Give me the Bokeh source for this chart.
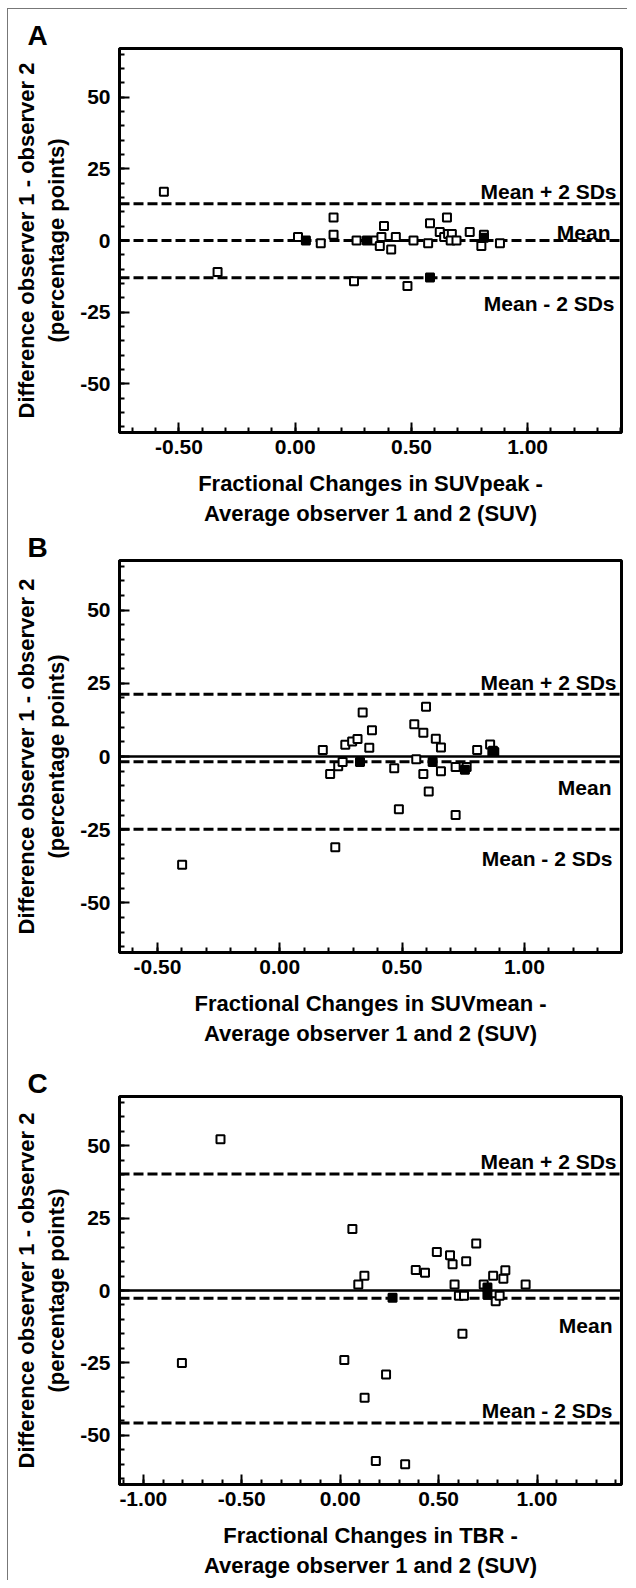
import numpy as np
from bokeh.plotting import figure
from bokeh.models import Range1d, FixedTicker, NumeralTickFormatter, Span, Label
from bokeh.layouts import column
from bokeh.embed import file_html
from bokeh.resources import INLINE

FONT = "Liberation Sans"

# ---------------- data ----------------
y_ticks = [-50, -25, 0, 25, 50]

# Panel A: SUVpeak
a_x = [-0.565, -0.334, 0.012, 0.110, 0.165, 0.165, 0.253, 0.264, 0.345, 0.364, 0.371,
       0.382, 0.413, 0.433, 0.483, 0.509, 0.572, 0.580, 0.622, 0.641, 0.653, 0.658,
       0.674, 0.669, 0.694, 0.751, 0.801, 0.812, 0.881]
a_y = [17.0, -11.0, 1.2, -1.0, 8.0, 2.0, -14.2, 0.0, 0.0, -1.9, 1.2,
       5.1, -3.1, 1.2, -15.9, 0.0, -1.0, 6.0, 3.0, 1.2, 8.0, 2.3,
       2.3, 0.0, 0.0, 3.0, -1.9, 2.0, -1.0]
a_fx = [0.046, 0.308, 0.580, 0.812]
a_fy = [0.0, 0.0, -12.9, 1.0]
a_limits = [12.8, 0.0, -13.0]          # mean + 2SD, mean, mean - 2SD
a_xticks = [-0.5, 0.0, 0.5, 1.0]

# Panel B: SUVmean
b_x = [-0.399, 0.176, 0.206, 0.227, 0.239, 0.257, 0.268, 0.296, 0.318, 0.339, 0.366,
       0.377, 0.468, 0.487, 0.550, 0.558, 0.587, 0.587, 0.598, 0.609, 0.638, 0.659,
       0.659, 0.719, 0.719, 0.764, 0.807, 0.860, 0.869, 0.877]
b_y = [-37.0, 2.2, -6.0, -31.0, -3.3, -1.9, 4.0, 5.1, 6.0, 15.0, 3.0,
       9.0, -4.0, -18.0, 11.0, -0.9, 8.1, -6.0, 17.0, -12.0, 6.1, 3.1,
       -5.0, -3.6, -20.0, -3.6, 2.2, 4.1, 1.6, 1.5]
b_fx = [0.328, 0.625, 0.757, 0.872]
b_fy = [-1.9, -1.9, -4.5, 2.0]
b_limits = [21.3, -1.8, -24.9]
b_xticks = [-0.5, 0.0, 0.5, 1.0]

# Panel C: TBR
c_x = [-0.804, -0.608, 0.021, 0.062, 0.092, 0.123, 0.124, 0.181, 0.233, 0.330, 0.384,
       0.431, 0.491, 0.558, 0.571, 0.581, 0.603, 0.629, 0.621, 0.640, 0.691, 0.729,
       0.777, 0.790, 0.810, 0.829, 0.839, 0.942]
c_y = [-25.0, 52.2, -24.0, 21.2, 2.1, 5.1, -37.0, -58.9, -29.0, -60.0, 7.1,
       6.1, 13.3, 12.2, 9.1, 2.1, -1.8, -1.8, -14.9, 10.1, 16.2, 2.1,
       5.1, -3.7, -1.8, 4.1, 7.0, 2.1]
c_fx = [0.266, 0.748, 0.748]
c_fy = [-2.5, 1.0, -1.5]
c_limits = [40.2, -2.7, -45.8]
c_xticks = [-1.0, -0.5, 0.0, 0.5, 1.0]

Y_LABEL = "Difference observer 1 - observer 2\n(percentage points)"


def minor(lo, hi, step):
    n0 = int(np.ceil(lo / step - 1e-9))
    n1 = int(np.floor(hi / step + 1e-9))
    return [round(i * step, 4) for i in range(n0, n1 + 1)]


def panel(letter, xs, ys, fxs, fys, xr, xticks, xlabel, limits, zero, offs, h, bt, bb):
    p = figure(width=619, height=h, x_range=Range1d(*xr), y_range=Range1d(-67, 67),
               output_backend="svg", toolbar_location=None,
               min_border_left=111, min_border_right=6,
               min_border_top=bt, min_border_bottom=bb)
    p.title.text = letter
    p.title.text_font = FONT
    p.title.text_font_size = "28px"
    p.title.text_font_style = "bold"
    p.title.text_color = "black"
    p.title.align = "left"
    p.title.offset = -92
    p.title.standoff = -4

    p.xgrid.visible = False
    p.ygrid.visible = False
    p.outline_line_color = "black"
    p.outline_line_width = 3
    p.outline_line_alpha = 1.0

    p.xaxis.ticker = FixedTicker(ticks=xticks, minor_ticks=minor(xr[0], xr[1], 0.1))
    p.xaxis.formatter = NumeralTickFormatter(format="0.00")
    p.yaxis.ticker = FixedTicker(ticks=y_ticks, minor_ticks=minor(-67, 67, 5))
    p.yaxis.formatter = NumeralTickFormatter(format="0")
    p.xaxis.axis_label = xlabel
    p.yaxis.axis_label = Y_LABEL
    for ax in p.axis:
        ax.major_tick_in = 10
        ax.major_tick_out = 0
        ax.minor_tick_in = 5
        ax.minor_tick_out = 0
        ax.axis_line_width = 3
        ax.axis_line_color = "black"
        ax.major_tick_line_width = 2
        ax.minor_tick_line_width = 2
        ax.major_tick_line_color = "black"
        ax.minor_tick_line_color = "black"
        ax.major_label_text_font = FONT
        ax.major_label_text_font_size = "21px"
        ax.major_label_text_font_style = "bold"
        ax.major_label_text_color = "black"
        ax.axis_label_text_font = FONT
        ax.axis_label_text_font_size = "22px"
        ax.axis_label_text_font_style = "bold"
        ax.axis_label_text_color = "black"
    p.xaxis.major_label_standoff = 7
    p.yaxis.major_label_standoff = 9
    p.xaxis.axis_label_standoff = 14
    p.yaxis.axis_label_standoff = 8

    if zero:
        p.add_layout(Span(location=0, dimension="width", line_color="black",
                          line_width=2.5, level="underlay"))
    for v in limits:
        p.add_layout(Span(location=v, dimension="width", line_color="black",
                          line_width=3, line_dash="10 4", level="underlay"))

    p.scatter(xs, ys, marker="square", size=8, fill_color="white",
              line_color="black", line_width=2)
    p.scatter(fxs, fys, marker="square", size=8, fill_color="black",
              line_color="black", line_width=2)

    texts = ["Mean + 2 SDs", "Mean", "Mean - 2 SDs"]
    for t, v, (xo, yo) in zip(texts, limits, offs):
        p.add_layout(Label(x=xr[1], y=v, text=t, x_offset=xo, y_offset=yo,
                           text_align="right", text_baseline="alphabetic",
                           text_font=FONT, text_font_size="21px",
                           text_font_style="bold", text_color="black"))
    return p


pA = panel("A", a_x, a_y, a_fx, a_fy, (-0.756, 1.404), a_xticks,
           "Fractional Changes in SUVpeak -\nAverage observer 1 and 2 (SUV)",
           a_limits, False, [(-5, 12), (-11, 8), (-7, -26)], 519, 39, 88)
pB = panel("B", b_x, b_y, b_fx, b_fy, (-0.655, 1.397), b_xticks,
           "Fractional Changes in SUVmean -\nAverage observer 1 and 2 (SUV)",
           b_limits, True, [(-5, 12), (-10, -26), (-9, -29)], 534, 32, 110)
pC = panel("C", c_x, c_y, c_fx, c_fy, (-1.121, 1.429), c_xticks,
           "Fractional Changes in TBR -\nAverage observer 1 and 2 (SUV)",
           c_limits, True, [(-5, 13), (-9, -27), (-9, 13)], 518, 34, 92)

layout = column(pA, pB, pC, spacing=0, margin=(8, 0, 0, 7),
                styles={"border-top": "1px solid #777", "border-left": "1px solid #777"})

open("out.html", "w").write(file_html(layout, INLINE))
